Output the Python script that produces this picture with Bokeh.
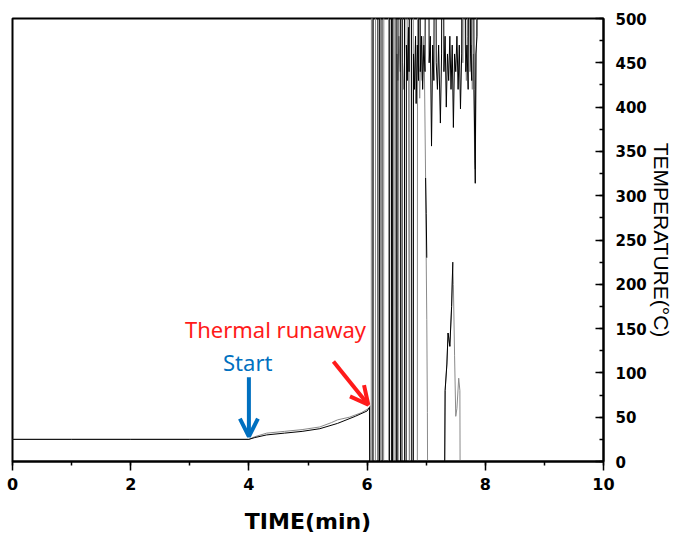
from bokeh.plotting import figure
from bokeh.models import Range1d, SingleIntervalTicker, Label, Arrow, OpenHead
from bokeh.embed import file_html
from bokeh.resources import INLINE

NAN = float("nan")

# Thermocouple 1 (black)
time_black = [0.0, 1.0, 2.0, 3.0, 4.0, 4.1, 4.3, 4.6, 4.9, 5.2, 5.5, 5.8, 6.0, 6.04,
              6.045, 6.10, 6.105, 6.18, 6.185, 6.21, 6.215, 6.25, 6.255, 6.38, 6.385, 6.41,
              6.415, 6.43, 6.435, 6.49, 6.495, 6.52, 6.525, 6.56, 6.565, 6.59, 6.595, 6.63,
              6.635, 6.66, 6.665, 6.68, 6.70, 6.71, 6.73, 6.75, 6.755, 6.78, 6.785, 6.80,
              6.82, 6.83, 6.85, 6.87, 6.89, 6.90, 6.92, 6.94, 6.96, 6.98, 7.00, 7.03,
              7.05, 7.07, 7.09, 7.11, 7.13, 7.15, 7.17, 7.19, 7.21, 7.24, 7.26, 7.28,
              7.30, 7.32, 7.34, 7.36, 7.38, 7.40, 7.42, 7.44, 7.46, 7.48, 7.50, 7.52,
              7.54, 7.56, 7.58, 7.60, 7.62, 7.65, 7.67, 7.69, 7.71, 7.73, 7.75, 7.77,
              7.79, 7.81, 7.83, 7.84, 7.86, 7.88,
              NAN, 7.31, 7.32, 7.35, 7.37, 7.40, 7.43, 7.45,
              NAN, 6.99, 7.00, 7.01]
temp_black = [25, 25, 25, 25, 25, 27, 30, 32, 34, 37, 43, 51, 57, 61,
              -40, -40, 900, 900, -40, -40, 900, 900, -40, -40, 900, 900,
              -40, -40, 900, 900, -40, -40, 900, 900, -40, -40, 900, 900,
              -40, -40, 470, 430, 490, 440, 900, 900, -40, -40, 460, 420,
              480, 404, 470, 430, 900, 440, 480, 420, 470, 440, 900, 900,
              450, 480, 356, 470, 430, 900, 450, 420, 470, 382, 460, 900,
              440, 480, 400, 460, 430, 480, 420, 470, 377, 460, 440, 480,
              420, 470, 398, 460, 900, 900, 440, 470, 420, 900, 460, 430,
              900, 420, 314, 460, 480, 900,
              NAN, -40, 80, 110, 145, 130, 175, 225,
              NAN, 320, 280, 230]

# Thermocouple 2 (grey)
time_grey = [0.0, 1.0, 2.0, 3.0, 4.0, 4.1, 4.3, 4.6, 4.9, 5.2, 5.4, 5.5, 5.7, 5.9, 6.03,
             6.05, 6.055, 6.07, 6.075, 6.09, 6.095, 6.14, 6.145, 6.22, 6.225, 6.28, 6.285,
             6.36, 6.365, 6.45, 6.455, 6.47, 6.475, 6.50, 6.505, 6.52, 6.54, 6.56, 6.58,
             6.60, 6.62, 6.64, 6.66, 6.68, 6.70, 6.715, 6.72, 6.725, 6.78, 6.785, 6.85,
             6.855, 6.87, 6.875, 6.89, 6.91, 6.93, 6.95, 6.97, 6.99, 7.00, 7.01, 7.02,
             7.025, 7.31, 7.32, 7.35, 7.37, 7.40, 7.43, 7.45, 7.46, 7.48, 7.50, 7.52,
             7.55, 7.57, 7.575, 7.58,
             7.60, 7.62, 7.64, 7.66, 7.68, 7.70, 7.72, 7.74, 7.76, 7.78, 7.80, 7.82,
             7.83, 7.85, 7.87]
temp_grey = [25, 25, 25, 25, 25, 28, 32, 34, 36, 39, 44, 47, 50, 55, 60,
             63, -40, -40, 900, 900, -40, -40, 900, 900, -40, -40, 900,
             900, -40, -40, 900, 900, -40, -40, 460, 430, 480, 440, 900,
             450, 420, 470, 900, 440, 470, -40, -40, 900, 900, -40, -40,
             900, 900, 450, 410, 470, 430, 480, 440, 320, 230, 160, 55,
             -40, -40, 80, 110, 145, 130, 175, 225, 200, 120, 51, 60,
             94, 80, -40, NAN,
             900, 450, 900, 470, 430, 480, 900, 440, 470, 420, 460, 340,
             330, 470, 900]

x_ticks_interval = 2
y_ticks_interval = 50

BLUE = "#0070C0"
RED = "#FF1A1A"

p = figure(width=675, height=536, x_range=Range1d(0, 10), y_range=Range1d(0, 500),
           y_axis_location="right", output_backend="svg", toolbar_location=None,
           min_border_left=12, min_border_top=18, min_border_right=72, min_border_bottom=74)
p.grid.visible = False
p.outline_line_color = "black"
p.outline_line_width = 2
p.background_fill_color = "white"
p.border_fill_color = "white"

p.line(time_grey, temp_grey, line_color="#8a8a8a", line_width=1)
p.line(time_black, temp_black, line_color="black", line_width=1)

xa = p.xaxis[0]
xa.ticker = SingleIntervalTicker(interval=x_ticks_interval, num_minor_ticks=2)
xa.axis_line_width = 2
xa.major_tick_in = 0
xa.major_tick_out = 9
xa.minor_tick_in = 0
xa.minor_tick_out = 4
xa.major_tick_line_width = 1.5
xa.minor_tick_line_width = 1.5
xa.major_label_text_font = "DejaVu Sans"
xa.major_label_text_font_style = "bold"
xa.major_label_text_font_size = "16px"
xa.major_label_text_color = "black"
xa.major_label_standoff = 7
xa.axis_label = "TIME(min)"
xa.axis_label_text_font = "DejaVu Sans"
xa.axis_label_text_font_style = "bold"
xa.axis_label_text_font_size = "22px"
xa.axis_label_text_color = "black"
xa.axis_label_standoff = 16

ya = p.yaxis[0]
ya.ticker = SingleIntervalTicker(interval=y_ticks_interval, num_minor_ticks=2)
ya.axis_line_width = 2
ya.major_tick_in = 8
ya.major_tick_out = 0
ya.minor_tick_in = 4
ya.minor_tick_out = 0
ya.major_tick_line_width = 1.5
ya.minor_tick_line_width = 1.5
ya.major_label_text_font = "DejaVu Sans"
ya.major_label_text_font_style = "bold"
ya.major_label_text_font_size = "15px"
ya.major_label_text_color = "black"
ya.major_label_standoff = 12
ya.axis_label = "TEMPERATURE(°C)"
ya.axis_label_text_font = "Liberation Sans"
ya.axis_label_text_font_style = "normal"
ya.axis_label_text_font_size = "21px"
ya.axis_label_text_color = "black"
ya.axis_label_standoff = 0

# annotations
p.add_layout(Label(x=4.45, y=149, text="Thermal runaway", text_color=RED,
                   text_font="Noto Sans", text_font_size="22px",
                   text_align="center", text_baseline="middle"))
p.add_layout(Label(x=3.98, y=112, text="Start", text_color=BLUE,
                   text_font="Noto Sans", text_font_size="22px",
                   text_align="center", text_baseline="middle"))
p.add_layout(Arrow(end=OpenHead(size=18, line_color=BLUE, line_width=4),
                   x_start=4.0, y_start=95, x_end=4.0, y_end=28,
                   line_color=BLUE, line_width=4))
p.add_layout(Arrow(end=OpenHead(size=18, line_color=RED, line_width=4),
                   x_start=5.43, y_start=113, x_end=6.02, y_end=64,
                   line_color=RED, line_width=4))

open("out.html", "w").write(file_html(p, INLINE))
